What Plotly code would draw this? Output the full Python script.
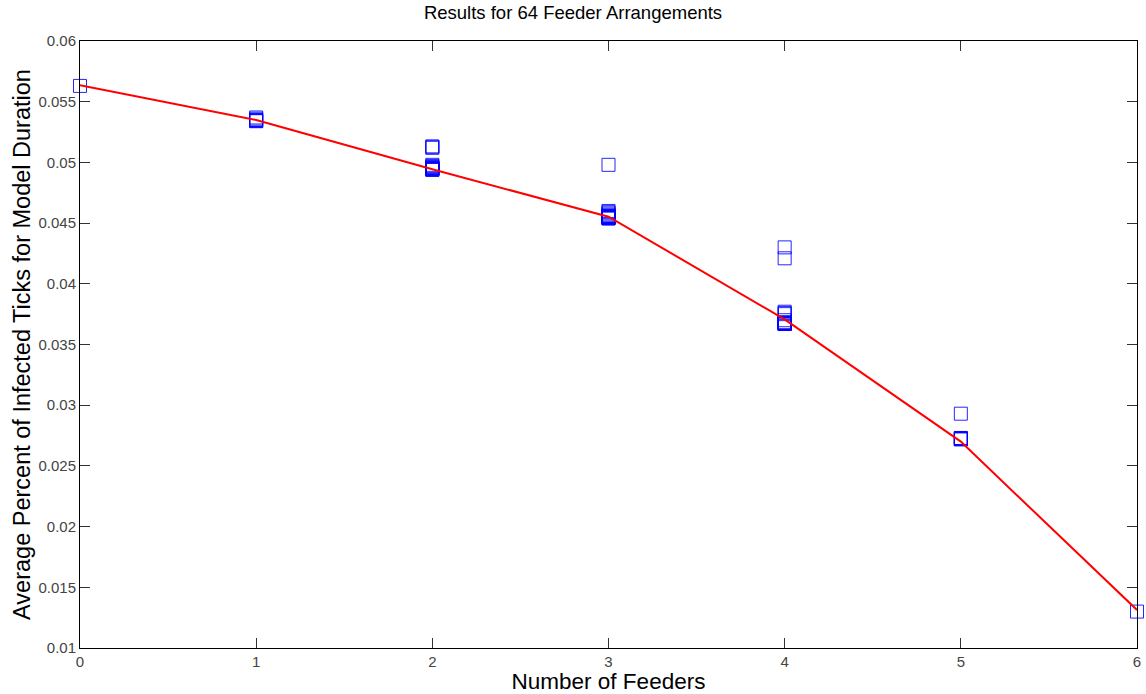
import plotly.graph_objects as go

# number of feeders for each arrangement group
feeders = [0, 1, 2, 3, 4, 5, 6]

# individual arrangement results (open squares), grouped by feeder count
results_0 = [0.0563]
results_1 = [0.0537, 0.0535, 0.0534, 0.0535, 0.0534, 0.0536]
results_2 = [0.0513, 0.0512, 0.0513, 0.0498, 0.0497, 0.0495, 0.0495, 0.0494,
             0.0495, 0.0496, 0.0494, 0.0495, 0.0496, 0.0494, 0.0495]
results_3 = [0.0498, 0.0460, 0.0459, 0.0458, 0.0457, 0.0456, 0.0455, 0.0455,
             0.0454, 0.0455, 0.0456, 0.0455, 0.0454, 0.0455, 0.0456, 0.0455,
             0.0454, 0.0455, 0.0455, 0.0454]
results_4 = [0.0430, 0.0421, 0.0377, 0.0376, 0.0375, 0.0370, 0.0368, 0.0367,
             0.0367, 0.0368, 0.0367, 0.0368, 0.0367, 0.0368, 0.0367]
results_5 = [0.0293, 0.0272, 0.0273, 0.0272, 0.0273, 0.0272]
results_6 = [0.0130]

# red curve values at each feeder count
line_values = [0.05635, 0.05349, 0.04943, 0.04553, 0.03707, 0.02700, 0.01313]

groups = [results_0, results_1, results_2, results_3, results_4, results_5, results_6]
pts_x, pts_y = [], []
for n, vals in zip(feeders, groups):
    pts_x += [n] * len(vals)
    pts_y += vals

fig = go.Figure()
fig.add_trace(go.Scatter(
    x=pts_x, y=pts_y, mode="markers",
    marker=dict(symbol="square-open", size=13, color="rgba(0,0,255,0.85)",
                line=dict(width=1, color="rgba(0,0,255,0.85)")),
    cliponaxis=False, showlegend=False,
))
fig.add_trace(go.Scatter(
    x=feeders, y=line_values, mode="lines",
    line=dict(color="#ff0000", width=2),
    cliponaxis=False, showlegend=False,
))

FONT = "Liberation Sans, Arial, sans-serif"
axis_common = dict(
    showline=True, linecolor="black", linewidth=1, mirror="ticks",
    ticks="inside", ticklen=10, tickcolor="#333333", tickwidth=1,
    showgrid=False, zeroline=False,
    tickfont=dict(family=FONT, size=15, color="#444444"),
)

fig.update_layout(
    width=1146, height=694,
    margin=dict(l=80, r=5, t=41, b=46),
    paper_bgcolor="white", plot_bgcolor="white",
    title=dict(text="Results for 64 Feeder Arrangements", x=0.5, xanchor="center",
               y=1 - 13 / 694, yanchor="middle",
               font=dict(family=FONT, size=18.5, color="black")),
    xaxis=dict(range=[0, 6], tickvals=[0, 1, 2, 3, 4, 5, 6],
               title=dict(text="Number of Feeders", standoff=2,
                          font=dict(family=FONT, size=22.5, color="black")),
               **axis_common),
    yaxis=dict(range=[0.01, 0.06], dtick=0.005, tickformat="~g",
               title=dict(text="Average Percent of Infected Ticks for Model Duration", standoff=1,
                          font=dict(family=FONT, size=23.5, color="black")),
               **axis_common),
)

fig.write_html("out.html")
